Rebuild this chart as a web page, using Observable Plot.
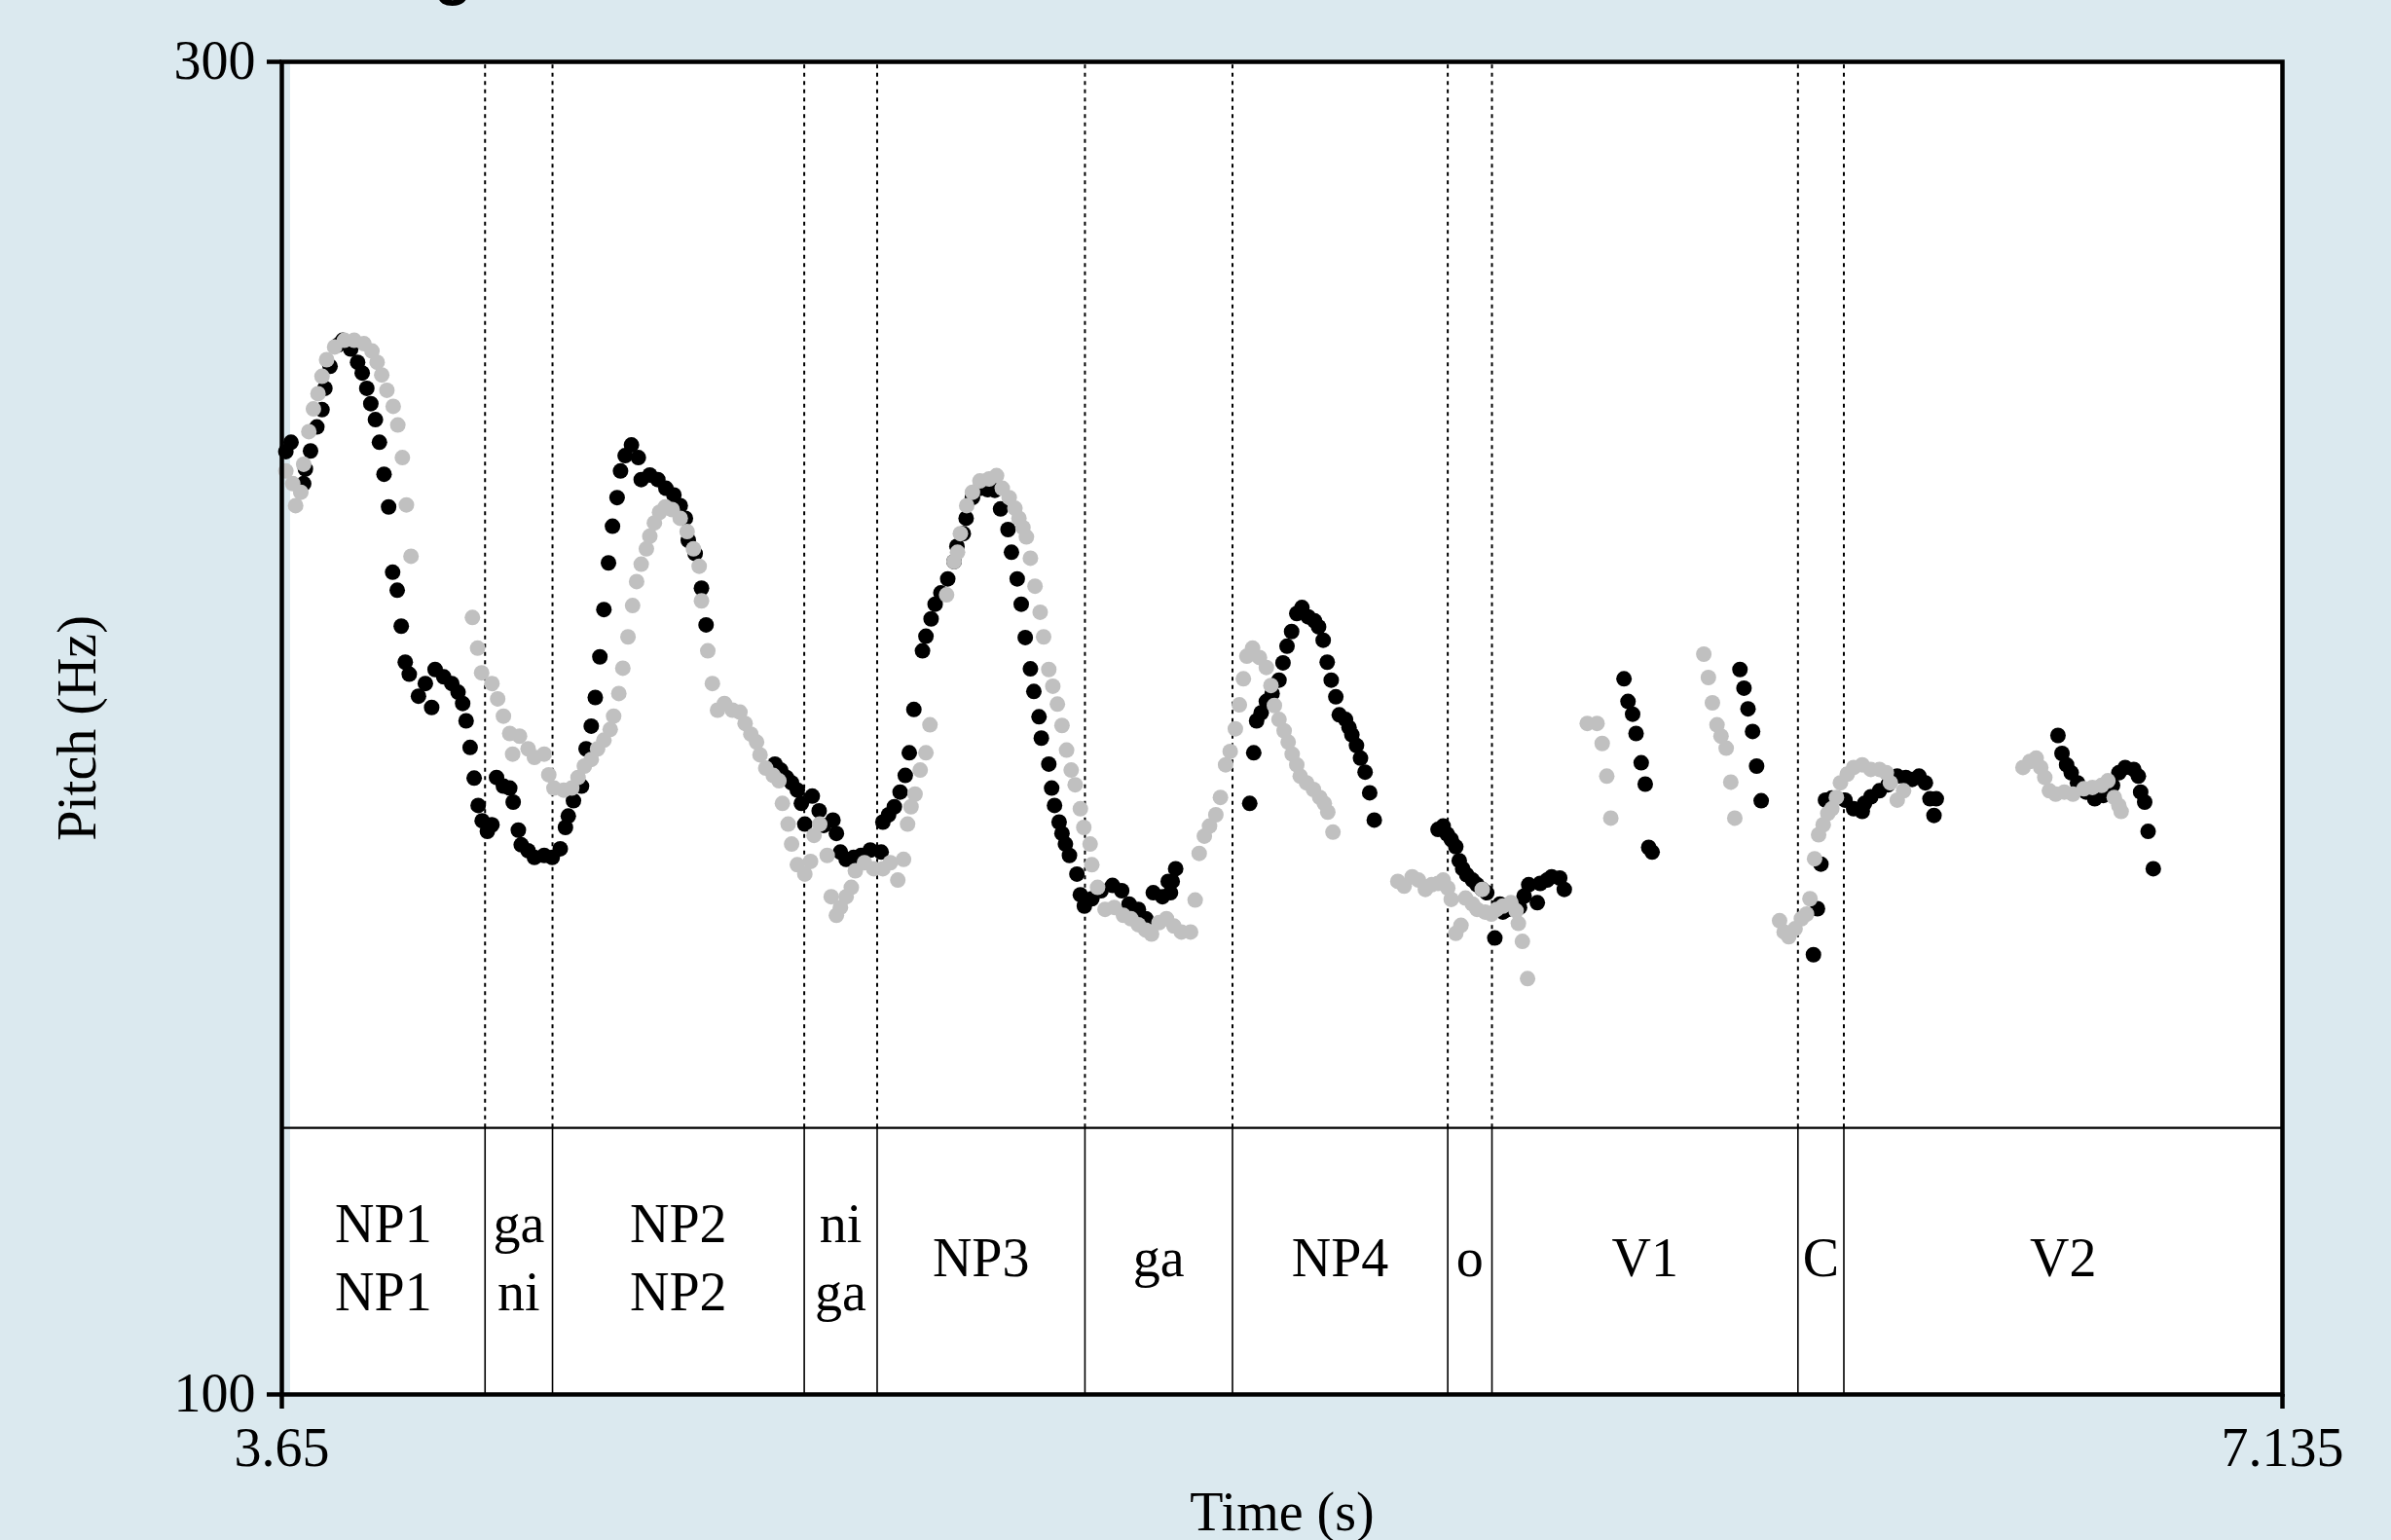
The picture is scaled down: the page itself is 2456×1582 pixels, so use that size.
<!DOCTYPE html>
<html><head><meta charset="utf-8">
<script src="https://cdn.jsdelivr.net/npm/d3@7"></script>
<script src="https://cdn.jsdelivr.net/npm/@observablehq/plot@0.6"></script>
<style>
html,body{margin:0;padding:0;background:#dbe9ef;}
#chart{position:relative;width:2456px;height:1582px;overflow:hidden;}
#heading{position:absolute;top:-61px;left:446px;font:bold 64px/64px 'Liberation Sans',Arial,sans-serif;color:#000;white-space:nowrap;}
</style></head><body><div id="chart"><div id="heading">g</div></div>
<script>
// Pitch track, speaker/version 1 (black): [time s, pitch Hz]
const blackPoints = [
[3.657,241.5],[3.666,242.9],[3.688,236.7],[3.691,238.9],[3.700,241.6],[3.711,245.2],[3.720,247.8],[3.725,251.0],[3.734,254.3],[3.748,257.5],
[3.756,258.2],[3.770,256.9],[3.782,254.9],[3.790,253.3],[3.798,251.0],[3.805,248.7],[3.813,246.3],[3.820,242.9],[3.828,238.1],[3.836,233.2],
[3.843,223.4],[3.851,220.7],[3.858,215.3],[3.865,209.9],[3.872,208.1],[3.888,204.8],[3.900,206.7],[3.911,203.1],[3.917,208.8],[3.932,207.7],
[3.946,206.7],[3.957,205.4],[3.965,203.7],[3.971,201.1],[3.978,197.1],[3.985,192.5],[3.992,188.4],[3.999,186.1],[4.008,184.5],[4.016,185.5],
[4.024,192.6],[4.036,191.3],[4.047,191.0],[4.053,188.9],[4.062,184.7],[4.067,182.5],[4.079,181.6],[4.090,180.6],[4.107,180.9],[4.121,180.6],
[4.135,181.9],[4.144,185.1],[4.149,186.8],[4.158,189.1],[4.172,191.3],[4.180,196.9],[4.189,200.3],[4.196,204.6],[4.204,210.7],[4.211,217.8],
[4.219,224.8],[4.226,230.3],[4.234,234.6],[4.240,238.6],[4.248,240.9],[4.259,242.5],[4.271,240.6],[4.276,237.3],[4.291,238.0],[4.305,237.3],
[4.319,236.0],[4.333,235.0],[4.344,233.4],[4.353,231.5],[4.358,228.2],[4.370,226.2],[4.381,221.0],[4.389,215.5],
[4.509,194.6],[4.519,193.7],[4.529,192.6],[4.538,191.8],[4.548,190.7],[4.555,188.7],[4.561,185.6],[4.574,189.8],[4.586,187.6],[4.594,185.4],
[4.610,186.2],[4.616,184.2],[4.623,181.4],[4.633,180.3],[4.646,180.6],[4.659,180.9],[4.675,181.7],[4.694,181.4],[4.697,185.9],[4.707,187.0],
[4.717,188.2],[4.727,190.4],[4.736,192.9],[4.743,196.3],[4.751,202.8],[4.766,211.6],[4.772,213.8],[4.781,216.4],[4.788,218.6],[4.798,220.3],
[4.810,222.4],[4.821,225.0],[4.826,227.3],[4.837,229.2],[4.842,231.5],[4.853,234.6],[4.866,236.0],[4.879,235.8],[4.892,235.7],[4.902,232.9],
[4.915,229.8],[4.921,226.4],[4.931,222.4],[4.938,218.6],[4.945,213.6],[4.954,208.9],[4.960,205.5],[4.969,201.7],[4.973,198.5],[4.986,194.6],
[4.991,191.0],[4.996,188.4],[5.004,185.9],[5.009,184.2],[5.015,182.6],[5.022,180.9],[5.035,178.1],[5.041,175.0],[5.048,173.3],[5.061,174.4],
[5.077,175.6],[5.097,176.4],[5.113,175.6],[5.126,173.6],[5.142,172.8],[5.155,171.4],[5.168,175.3],[5.184,174.7],[5.194,177.0],[5.198,175.3],
[5.201,177.0],[5.207,178.9],
[5.336,188.7],[5.343,196.3],[5.348,201.1],[5.356,202.3],[5.365,204.0],[5.375,205.2],[5.387,207.2],[5.394,209.8],[5.401,212.3],[5.409,214.5],
[5.418,217.2],[5.427,218.1],[5.438,216.7],[5.449,216.1],[5.456,215.2],[5.464,213.2],[5.471,209.9],[5.478,207.2],[5.486,204.7],[5.492,202.0],
[5.503,201.3],[5.509,200.1],[5.514,199.0],[5.522,197.4],[5.529,195.5],[5.537,193.4],[5.545,190.3],[5.553,186.2],
[5.664,184.8],[5.673,185.3],[5.680,184.1],[5.687,183.3],[5.695,182.2],[5.701,180.1],[5.707,178.9],[5.714,178.0],[5.724,177.2],[5.732,176.5],
[5.741,175.8],[5.749,175.3],[5.763,168.5],[5.772,173.6],[5.777,172.4],[5.786,172.8],[5.794,173.3],[5.806,173.1],[5.814,174.8],[5.822,176.5],
[5.837,173.8],[5.842,176.7],[5.854,177.2],[5.862,177.7],[5.876,177.5],[5.884,175.8],
[5.988,207.4],[5.995,204.0],[6.003,202.1],[6.009,199.2],[6.018,194.8],[6.025,191.6],[6.031,182.1],[6.037,181.4],
[6.190,208.8],[6.197,206.0],[6.204,202.9],[6.212,199.5],[6.219,194.3],[6.227,189.1],
[6.318,166.0],[6.325,172.9],[6.331,179.6],[6.339,189.2],[6.350,189.5],[6.373,189.2],[6.388,187.9],[6.403,187.5],[6.407,188.7],[6.418,189.7],
[6.433,190.6],[6.448,191.5],[6.464,192.8],[6.479,192.6],[6.490,192.3],[6.502,192.8],[6.513,191.8],[6.521,189.4],[6.532,189.4],[6.528,186.9],
[6.744,198.9],[6.751,196.2],[6.759,194.5],[6.767,193.3],[6.778,191.8],[6.793,190.4],[6.808,189.4],[6.823,189.9],[6.839,191.4],[6.850,193.3],
[6.861,194.1],[6.876,193.8],[6.884,192.8],[6.888,190.4],[6.895,188.9],[6.901,184.5],[6.910,178.9]
];

// Pitch track, speaker/version 2 (grey): [time s, pitch Hz]
const grayPoints = [
[3.657,238.6],[3.669,236.7],[3.674,233.4],[3.683,235.4],[3.688,239.6],[3.697,244.5],[3.705,247.9],[3.713,250.2],[3.720,252.8],[3.728,255.3],
[3.742,257.2],[3.759,258.2],[3.776,258.2],[3.793,257.7],[3.807,256.6],[3.816,254.9],[3.824,253.0],[3.833,250.7],[3.844,248.3],[3.852,245.5],
[3.860,240.6],[3.867,233.5],[3.875,225.8],
[3.982,216.6],[3.991,212.0],[3.998,208.3],[4.016,206.7],[4.026,204.4],[4.036,201.8],[4.047,199.2],[4.052,196.1],[4.064,198.8],[4.079,196.9],
[4.090,195.6],[4.107,196.1],[4.115,193.0],[4.124,191.0],[4.141,190.7],[4.155,191.0],[4.166,192.6],[4.177,194.3],[4.189,195.3],[4.200,196.9],
[4.211,198.2],[4.222,199.8],[4.228,201.8],[4.237,205.2],[4.244,209.0],[4.253,213.7],[4.261,218.4],[4.268,222.0],[4.276,224.6],[4.285,226.9],
[4.291,228.8],[4.299,230.8],[4.308,232.4],[4.318,233.2],[4.330,232.8],[4.344,231.5],[4.356,229.5],[4.367,226.9],[4.377,224.3],[4.381,219.1],
[4.392,211.6],[4.400,206.7],[4.409,202.7],[4.421,203.7],[4.435,202.7],[4.448,202.4],[4.457,200.7],[4.467,199.1],[4.477,197.9],[4.483,196.0],
[4.493,194.0],[4.506,192.9],[4.516,192.1],[4.522,188.7],[4.532,185.6],[4.538,182.6],[4.548,179.5],[4.561,178.1],[4.571,180.0],[4.577,183.9],
[4.587,185.6],[4.600,180.9],[4.607,174.7],[4.616,171.9],[4.623,173.1],[4.633,174.7],[4.642,176.1],[4.649,178.6],[4.665,179.8],[4.681,178.9],
[4.697,178.9],[4.710,179.8],[4.723,177.2],[4.733,180.3],[4.740,185.6],[4.746,188.2],[4.753,190.1],[4.762,193.7],[4.772,196.3],[4.779,200.5],
[4.808,220.0],[4.821,225.0],[4.827,226.4],[4.832,229.2],[4.843,233.4],[4.853,235.4],[4.866,237.1],[4.882,237.4],[4.895,237.9],[4.905,236.0],
[4.917,234.6],[4.927,233.0],[4.934,231.5],[4.941,230.1],[4.947,228.7],[4.954,225.5],[4.962,221.3],[4.971,217.4],[4.977,213.7],[4.986,208.8],
[4.993,206.3],[5.001,203.6],[5.009,200.4],[5.017,196.7],[5.025,193.7],[5.032,191.5],[5.041,187.9],[5.047,185.1],[5.058,182.6],[5.061,179.5],
[5.071,176.1],[5.084,172.8],[5.100,173.1],[5.116,171.9],[5.129,171.4],[5.142,170.5],[5.155,169.7],[5.165,169.1],[5.178,170.8],[5.191,171.4],
[5.204,170.3],[5.217,169.4],[5.233,169.4],[5.241,174.2],[5.248,181.2],[5.257,183.8],[5.266,185.3],[5.277,187.0],[5.285,189.6],[5.294,194.5],
[5.302,196.5],[5.311,199.9],[5.318,203.5],[5.325,207.4],[5.331,210.8],[5.341,212.0],[5.353,210.6],[5.365,209.1],[5.373,206.4],[5.379,203.4],
[5.387,201.3],[5.396,199.6],[5.403,197.9],[5.410,196.1],[5.418,194.5],[5.424,192.8],[5.435,191.8],[5.447,190.8],[5.458,189.6],[5.466,188.7],
[5.472,187.4],[5.481,184.4],
[5.594,177.0],[5.605,176.3],[5.619,177.7],[5.630,177.2],[5.642,175.8],[5.653,176.5],[5.664,176.7],[5.673,177.2],[5.681,176.0],[5.687,174.3],
[5.695,169.2],[5.704,170.4],[5.712,174.5],[5.724,173.6],[5.732,172.8],[5.741,175.8],[5.746,172.4],[5.757,172.1],[5.766,172.8],[5.777,173.3],
[5.791,173.8],[5.800,172.6],[5.804,170.7],[5.811,168.0],[5.820,162.4],
[5.924,200.7],[5.941,200.7],[5.950,197.7],[5.958,192.8],[5.965,186.5],
[6.127,211.1],[6.135,207.6],[6.142,203.8],[6.150,200.5],[6.157,198.8],[6.166,197.0],[6.174,191.9],[6.181,186.5],
[6.259,171.1],[6.267,169.4],[6.275,168.7],[6.286,169.9],[6.297,171.4],[6.306,172.1],[6.312,174.4],[6.320,180.4],[6.327,184.0],[6.335,185.5],
[6.343,187.2],[6.350,187.9],[6.358,189.6],[6.365,191.8],[6.377,193.1],[6.388,194.1],[6.403,194.5],[6.418,193.8],[6.433,193.8],[6.445,193.3],
[6.452,191.8],[6.464,189.2],[6.475,190.6],
[6.683,194.1],[6.695,195.0],[6.706,195.5],[6.714,194.1],[6.721,192.6],[6.729,190.6],[6.740,190.1],[6.755,190.4],[6.770,190.1],[6.789,190.9],
[6.804,191.1],[6.820,191.4],[6.831,192.1],[6.842,189.6],[6.850,188.4],[6.854,187.5]
];

// Annotation tier
const tierBoundaries = [4.004, 4.1215, 4.560, 4.687, 5.049, 5.306, 5.681, 5.758, 6.291, 6.371];
const tierLabels = ["NP1\nNP1", "ga\nni", "NP2\nNP2", "ni\nga", "NP3", "ga", "NP4", "o", "V1", "C", "V2"];
const timeDomain = [3.65, 7.135];
const pitchDomain = [100, 300];
const tierTop = 140;
const tierTextPitch = 121;
const xTicks = [3.65, 7.135];
const yTicks = [100, 300];

const black = blackPoints.map(([t, f]) => ({t, f}));
const gray = grayPoints.map(([t, f]) => ({t, f}));
const edges = [timeDomain[0], ...tierBoundaries, timeDomain[1]];
const tiers = tierLabels.map((label, i) => ({label, mid: (edges[i] + edges[i + 1]) / 2}));

const FS = 56;
const chart = Plot.plot({
  width: 2456,
  height: 1582,
  marginLeft: 289,
  marginRight: 112,
  marginTop: 63,
  marginBottom: 150,
  x: {domain: timeDomain},
  y: {domain: pitchDomain},
  style: {background: "transparent", fontFamily: "'Liberation Serif', 'Times New Roman', serif", fontSize: FS + "px", color: "black"},
  marks: [
    Plot.frame({fill: "white", stroke: null, insetLeft: 8.5}),
    Plot.ruleX(tierBoundaries, {y1: tierTop, y2: pitchDomain[1], stroke: "black", strokeWidth: 2, strokeDasharray: "4,4.5"}),
    Plot.ruleX(tierBoundaries, {y1: pitchDomain[0], y2: tierTop, stroke: "black", strokeWidth: 1.6}),
    Plot.ruleY([tierTop], {stroke: "black", strokeWidth: 2.2}),
    Plot.dot(black, {x: "t", y: "f", r: 8, fill: "black", stroke: null}),
    Plot.dot(gray, {x: "t", y: "f", r: 8, fill: "#c0c0c0", stroke: null}),
    Plot.frame({stroke: "black", strokeWidth: 4.5}),
    Plot.text(tiers, {x: "mid", y: tierTextPitch, text: "label", lineHeight: 1.25, lineAnchor: "middle", fontSize: FS, fill: "black"}),
    Plot.axisX({ticks: xTicks, tickSize: 15, tickPadding: 19, tickFormat: d => String(d), label: null, strokeWidth: 4.5, fontSize: FS}),
    Plot.axisY({ticks: yTicks, tickSize: 15, tickPadding: 12, tickFormat: d => String(d), label: null, strokeWidth: 4.5, fontSize: FS}),
    Plot.text(["Time (s)"], {frameAnchor: "bottom", lineAnchor: "middle", textAnchor: "middle", dy: 122, fontSize: FS, fill: "black"}),
    Plot.text(["Pitch (Hz)"], {frameAnchor: "left", lineAnchor: "middle", textAnchor: "middle", dx: -209, rotate: -90, fontSize: FS, fill: "black"})
  ]
});
document.getElementById("chart").appendChild(chart);
</script></body></html>
